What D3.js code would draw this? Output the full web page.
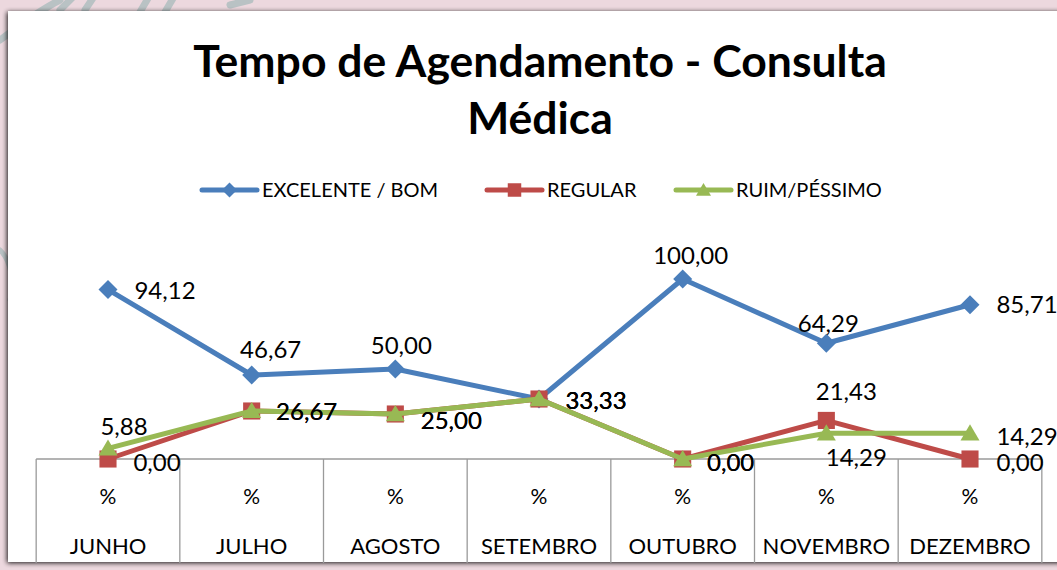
<!DOCTYPE html>
<html><head><meta charset="utf-8">
<script src="https://cdn.jsdelivr.net/npm/d3@7"></script>
<style>body{margin:0;background:#ecd8de;overflow:hidden}svg{display:block}</style>
</head><body>
<svg id="c" width="1057" height="570"></svg>
<script>
const categories = ["JUNHO","JULHO","AGOSTO","SETEMBRO","OUTUBRO","NOVEMBRO","DEZEMBRO"];
const unitRow = ["%","%","%","%","%","%","%"];
const seriesNames = ["EXCELENTE / BOM","REGULAR","RUIM/PÉSSIMO"];
const excelente = [94.12,46.67,50.00,33.33,100.00,64.29,85.71];
const regular = [0.00,26.67,25.00,33.33,0.00,21.43,0.00];
const ruim = [5.88,26.67,25.00,33.33,0.00,14.29,14.29];
const titleLines = ["Tempo de Agendamento - Consulta","Médica"];

// label offsets (layout only)
const labelOffsets = [
  [[57,1],[19,-25],[6,-23],[57,2],[8,-23],[2,-20],[57,0]],
  [[49,4],[55,1],[56,7],[57,2],[48,4],[20,-29],[50,4]],
  [[16,-22],[55,1],[56,7],[57,2],[48,4],[30,24],[57,3]]
];
const colors = ["#4a7ebb","#be4b48","#98b954"];
const markers = ["diamond","square","triangle"];
const data = [excelente, regular, ruim];

const svg = d3.select("#c");
const FONT = "Lato, 'Open Sans', sans-serif";

// background sketch marks
const bg = svg.append("g").attr("stroke","#b9c2c4").attr("fill","none").attr("stroke-width",7).attr("stroke-linecap","round");
bg.append("path").attr("d","M0,40 C20,25 40,10 60,0");
bg.append("path").attr("d","M60,10 L75,-5 M85,10 L95,-5");
bg.append("path").attr("d","M140,12 L150,-5 M165,12 L175,-5 M230,5 L250,0");
bg.append("path").attr("d","M0,250 C10,260 15,280 10,300").attr("stroke-width",5);

// frame with shadow
const defs = svg.append("defs");
const f = defs.append("filter").attr("id","sh").attr("x","-5%").attr("y","-5%").attr("width","110%").attr("height","110%");
f.append("feGaussianBlur").attr("in","SourceAlpha").attr("stdDeviation",2.5);
f.append("feOffset").attr("dx",-1).attr("dy",1).attr("result","b");
f.append("feComponentTransfer").append("feFuncA").attr("type","linear").attr("slope",0.9);
const m = f.append("feMerge"); m.append("feMergeNode"); m.append("feMergeNode").attr("in","SourceGraphic");
svg.append("rect").attr("x",8).attr("y",11).attr("width",1060).attr("height",551).attr("fill","#fff").attr("filter","url(#sh)");

// title
svg.append("g").selectAll("text").data(titleLines).join("text")
  .attr("x",540).attr("y",(d,i)=>77+i*57).attr("text-anchor","middle")
  .attr("font-family",FONT).attr("font-weight","bold").attr("font-size",44.5).attr("fill","#000").text(d=>d);

// scales
const x = d3.scalePoint().domain(categories).range([108,970]);
const y = d3.scaleLinear().domain([0,100]).range([459,279]);
const step = x.step();

// table
const tb = svg.append("g").attr("stroke","#9a9a9a").attr("stroke-width",1.3);
tb.append("line").attr("x1",x(categories[0])-step/2).attr("x2",x(categories[categories.length-1])+step/2).attr("y1",y(0)).attr("y2",y(0));
const edges = categories.map(c=>x(c)-step/2).concat([x(categories[categories.length-1])+step/2]);
tb.selectAll("line.v").data(edges).join("line").attr("class","v")
  .attr("x1",d=>d).attr("x2",d=>d).attr("y1",y(0)).attr("y2",563);
svg.append("g").selectAll("text").data(unitRow).join("text")
  .attr("x",(d,i)=>x(categories[i])).attr("y",504).attr("text-anchor","middle")
  .attr("font-family",FONT).attr("font-size",21).text(d=>d);
svg.append("g").selectAll("text").data(categories).join("text")
  .attr("x",d=>x(d)).attr("y",554).attr("text-anchor","middle")
  .attr("font-family",FONT).attr("font-size",22).text(d=>d);

function markerPath(type, s){
  const h = s/2;
  if(type==="diamond") return `M0,${-h}L${h},0L0,${h}L${-h},0Z`;
  if(type==="square") return `M${-h*0.9},${-h*0.9}H${h*0.9}V${h*0.9}H${-h*0.9}Z`;
  return `M0,${-h*0.95}L${h},${h*0.75}L${-h},${h*0.75}Z`;
}

const line = d3.line().x((d,i)=>x(categories[i])).y(d=>y(d));
data.forEach((vals,si)=>{
  const g = svg.append("g");
  g.append("path").datum(vals).attr("d",line).attr("fill","none").attr("stroke",colors[si]).attr("stroke-width",5).attr("stroke-linejoin","round");
  g.selectAll("path.m").data(vals).join("path").attr("class","m")
    .attr("transform",(d,i)=>`translate(${x(categories[i])},${y(d)})`)
    .attr("d",markerPath(markers[si],19)).attr("fill",colors[si]);
});
data.forEach((vals,si)=>{
  svg.append("g").selectAll("text").data(vals).join("text")
    .attr("x",(d,i)=>x(categories[i])+labelOffsets[si][i][0])
    .attr("y",(d,i)=>y(d)+labelOffsets[si][i][1])
    .attr("dy","0.35em").attr("text-anchor","middle")
    .attr("font-family",FONT).attr("font-size",24).attr("fill","#000")
    .text(d=>d.toFixed(2).replace(".",","));
});

// legend
const lg = svg.append("g");
const legX = [202,487,676];
seriesNames.forEach((n,i)=>{
  const g = lg.append("g").attr("transform",`translate(${legX[i]},190)`);
  g.append("line").attr("x1",0).attr("x2",55).attr("stroke",colors[i]).attr("stroke-width",5).attr("stroke-linecap","round");
  g.append("path").attr("transform","translate(27.5,0)").attr("d",markerPath(markers[i],15)).attr("fill",colors[i]);
  g.append("text").attr("x",60).attr("dy","0.35em").attr("font-family",FONT).attr("font-size",20).text(n);
});
</script>
</body></html>
